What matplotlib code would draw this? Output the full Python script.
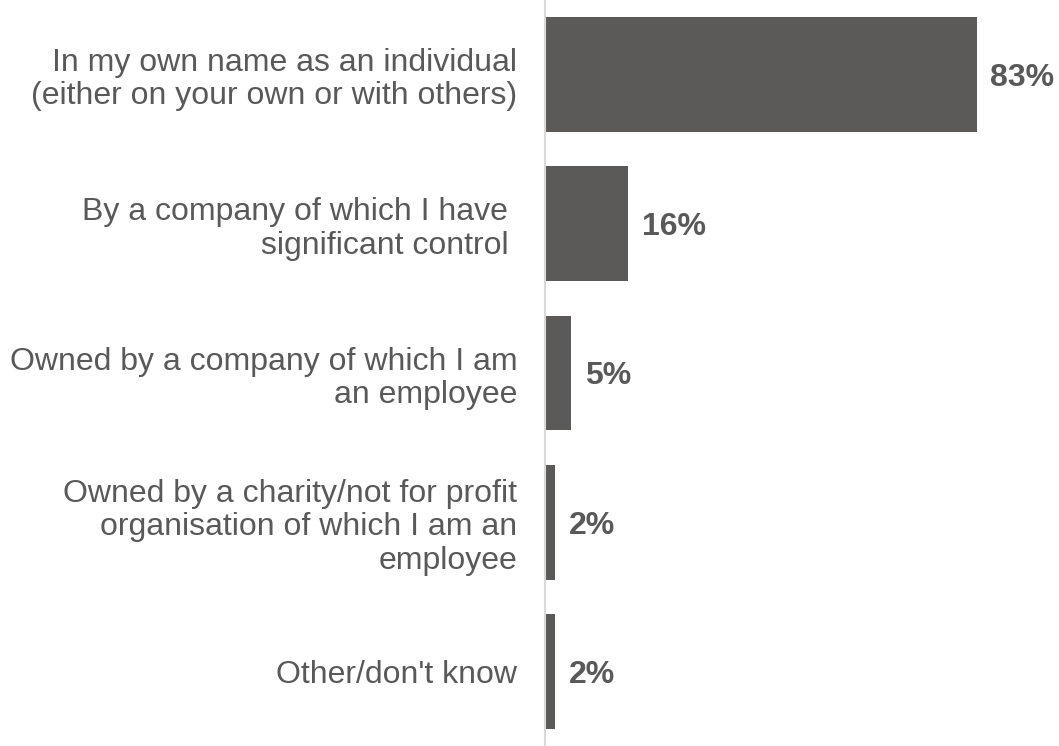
import matplotlib.pyplot as plt

plt.rcParams['font.family'] = ['Liberation Sans', 'DejaVu Sans']

# DATA
categories = [
    "In my own name as an individual\n(either on your own or with others)",
    "By a company of which I have \nsignificant control ",
    "Owned by a company of which I am\nan employee",
    "Owned by a charity/not for profit\norganisation of which I am an\nemployee",
    "Other/don't know",
]
values = [83, 16, 5, 2, 2]
value_labels = ["83%", "16%", "5%", "2%", "2%"]

bar_color = '#5b5a58'
text_color = '#595959'

# FIGURE
fig = plt.figure(figsize=(10.59, 7.46), dpi=100)
ax = fig.add_axes([545 / 1059, 0.0, 1 - 545 / 1059, 1.0])

ypos = list(range(len(categories)))
ax.barh(ypos, values, height=0.77, color=bar_color)

# scale: 83% ends at ~976 px
ax.set_xlim(0, (1059 - 545) / 5.2)
ax.set_ylim(len(categories) - 0.5, -0.5)

# value labels - baseline shifted so the digits sit centred on the bar
for y, v, lab in zip(ypos, values, value_labels):
    ax.annotate(lab, (v, y), xytext=(10, -8.2), textcoords='offset points',
                ha='left', va='baseline', fontsize=23, fontweight='bold',
                color=text_color)

# axes styling
ax.set_yticks(ypos)
ax.set_yticklabels(categories, fontsize=23, color=text_color, ha='right',
                   linespacing=1.14)
ax.tick_params(axis='y', length=0, pad=20)
ax.set_xticks([])
for s in ['top', 'right', 'bottom']:
    ax.spines[s].set_visible(False)
ax.spines['left'].set_color('#d9d9d9')
ax.spines['left'].set_linewidth(1.5)

fig.savefig('out.png', dpi=100)
